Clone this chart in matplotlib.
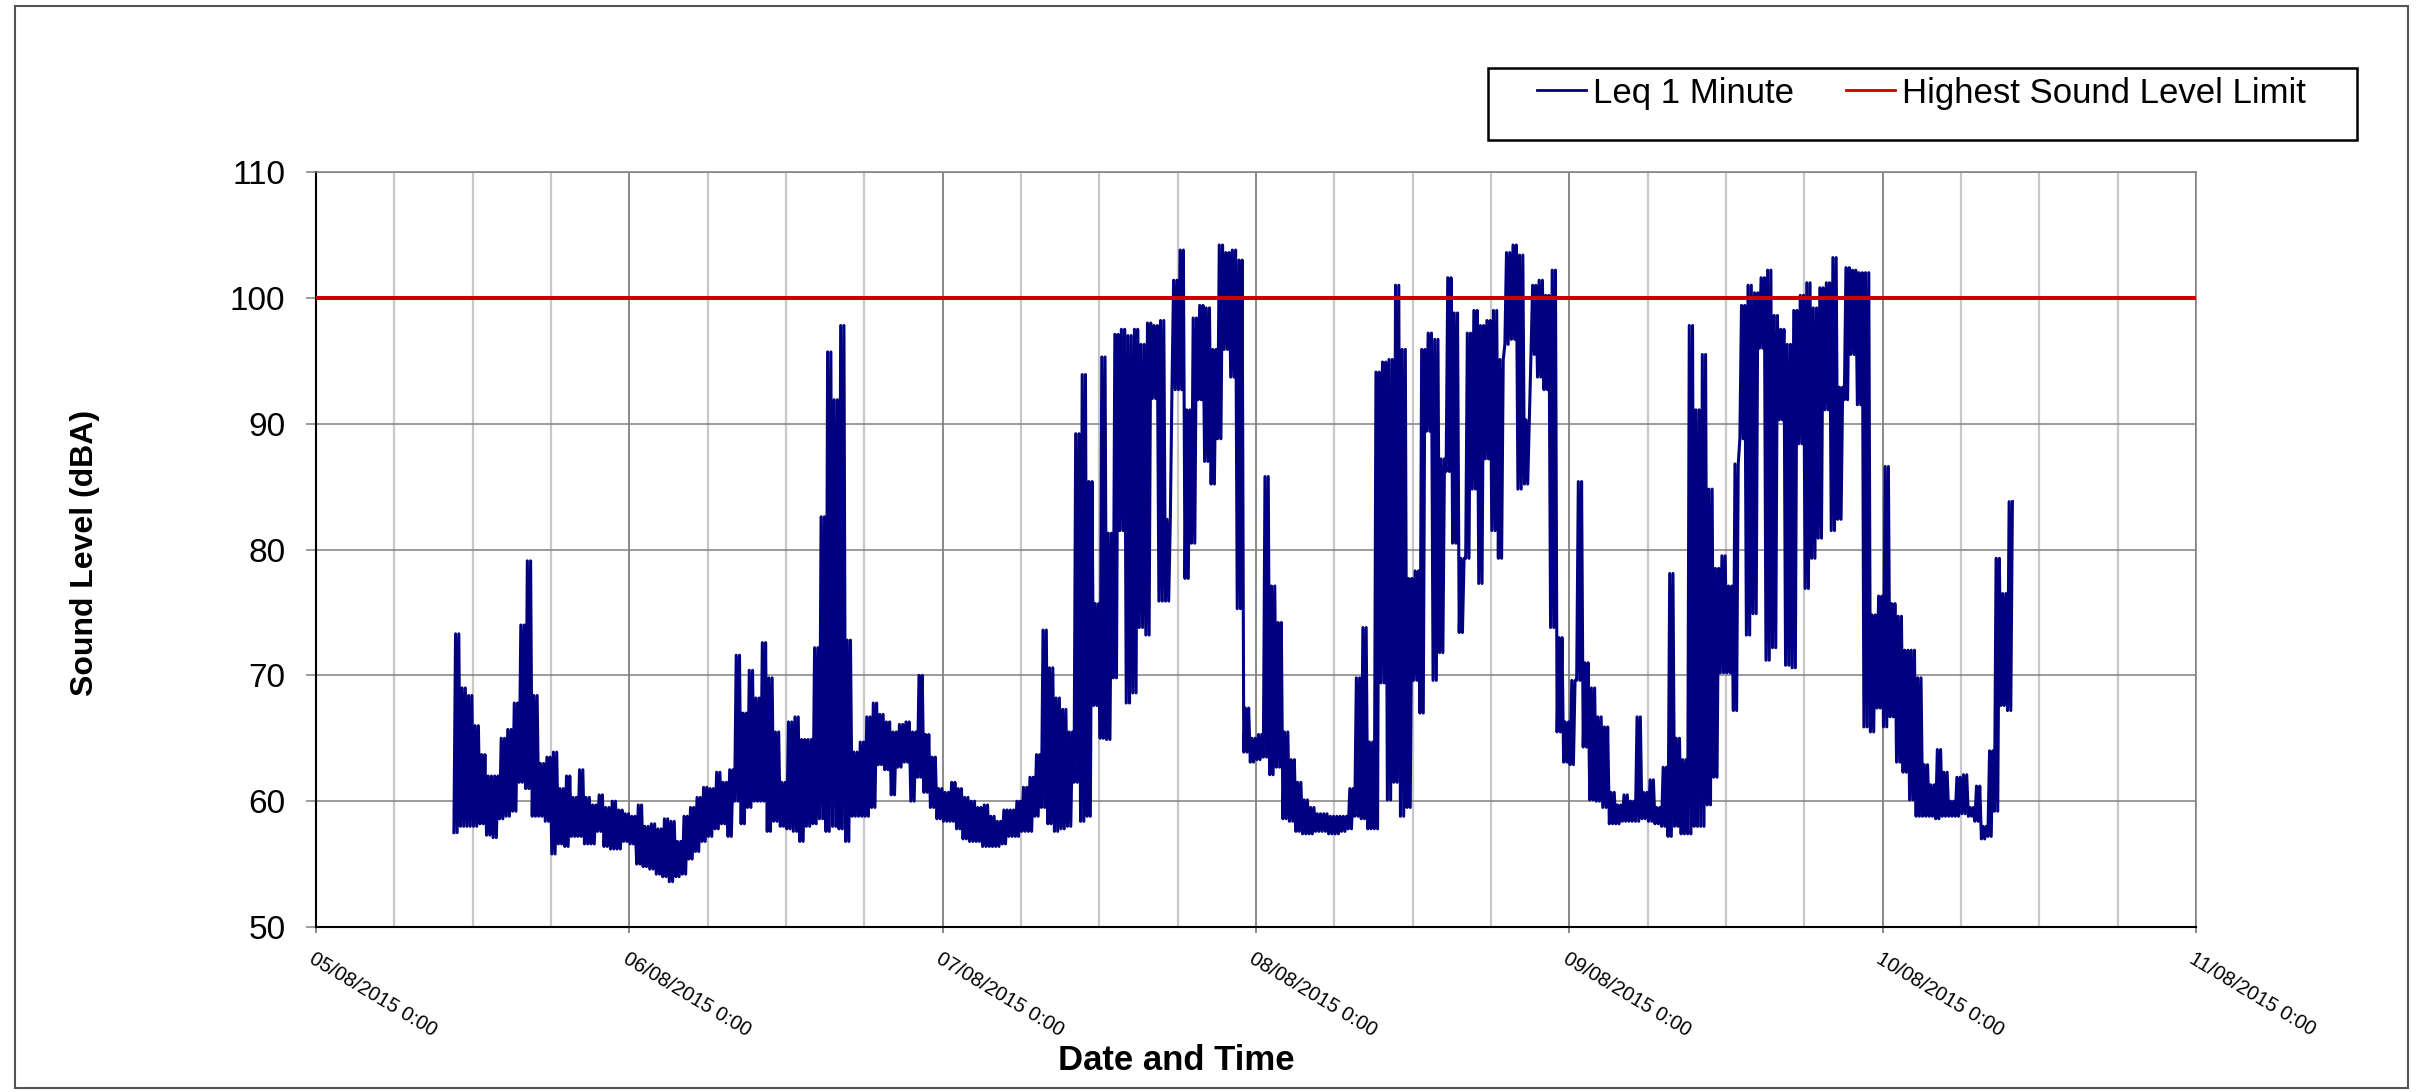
#!/usr/bin/env python3

import matplotlib
matplotlib.use("Agg")
import matplotlib.dates as mdates
import matplotlib.pyplot as plt
import matplotlib.ticker as mticker
import pandas as pd
from matplotlib.patches import Rectangle

plt.rcParams['font.family'] = ['Liberation Sans', 'DejaVu Sans']

# Leq 1 minute, summarised per half hour (min / max)
first_slot = "2015-08-05 10:30"
leq_low = [
    57.5, 58, 58, 58, 58.2, 57.3, 57.1, 58.6, 58.8, 59.2,
    61.5, 61, 58.8, 58.8, 58.4, 55.8, 56.6, 56.4, 57.2, 57.2,
    56.6, 56.6, 57.6, 56.4, 56.2, 56.2, 56.8, 56.6, 55, 54.8,
    54.6, 54.2, 54, 53.6, 54, 54.2, 55.4, 56, 56.8, 57.2,
    57.8, 58.2, 57.2, 60, 58.2, 59.5, 60,
    60, 57.6, 58.4, 58, 57.8, 57.6, 56.8, 58, 58.2, 58.6,
    57.6, 58, 57.8, 56.8, 58.8, 58.8, 58.8, 59.5, 62.9, 62.5,
    60.5, 62.7, 63.1, 60, 61.9, 60.7, 59.5, 58.6, 58.4, 58.4,
    57.8, 57, 56.8, 56.8, 56.4, 56.4, 56.4, 56.6, 57.2, 57.2,
    57.6, 57.6, 58.8, 59.5, 58.2, 57.6,
    57.8, 58, 61.5, 58.4, 58.8, 67.6, 65, 64.9, 69.8, 81.5,
    67.8, 68.6, 73.8, 73.2, 92, 75.9, 75.9, 92.7, 92.7, 77.7,
    80.5, 91.9, 87, 85.2, 88.8, 95.9, 93.7, 75.3, 63.9, 63.1,
    63.3, 63.5, 62.1, 62.7, 58.6, 58.4, 57.6, 57.4, 57.4, 57.6,
    57.6, 57.4, 57.4, 57.6, 57.8, 58.8,
    58.6, 57.8, 57.8, 69.4, 60.1, 61.5, 58.8, 59.5, 69.6, 67,
    89.4, 69.6, 71.8, 86.2, 80.5, 73.4, 79.3, 84.8, 77.3, 87.2,
    81.5, 79.3, 96.3, 96.7, 84.8, 85.2, 95.5, 93.7, 92.7, 73.8,
    65.5, 63.1, 62.9, 69.6, 64.3, 60.1, 60, 59.5, 58.2, 58.2,
    58.4, 58.4, 58.4, 58.6,
    58.4, 58.2, 58, 57.2, 58, 57.4, 57.4, 58, 58, 59.7,
    61.9, 70.2, 70.2, 67.2, 88.8, 73.2, 74.9, 96, 71.2, 72.2,
    90.3, 70.8, 70.6, 88.4, 76.9, 79.3, 80.9, 91.1, 81.5, 82.4,
    91.9, 95.5, 91.5, 65.9, 65.5, 67.4, 65.9, 66.7, 63.1, 62.3,
    60.1, 58.8, 58.8, 58.8, 58.6, 58.8, 58.8, 58.8,
    59, 58.8, 58.4, 57, 57.2, 59.2, 67.6, 67.2,
]
leq_high = [
    73.3, 69, 68.4, 66, 63.7, 62, 62, 65, 65.7, 67.8,
    74, 79.1, 68.4, 63, 63.5, 63.9, 61, 62, 60.3, 62.5,
    60.3, 59.7, 60.5, 59.5, 60, 59.3, 59, 58.8, 59.7, 58,
    58.2, 57.8, 58.6, 58.4, 56.8, 58.8, 59.5, 60.3, 61.1, 61,
    62.3, 61.5, 62.5, 71.6, 67, 70.4, 68.2,
    72.6, 69.8, 65.5, 61.5, 66.3, 66.7, 64.9, 64.9, 72.2, 82.6,
    95.7, 91.9, 97.8, 72.8, 63.9, 64.7, 66.7, 67.8, 66.9, 66.3,
    65.5, 66.1, 66.3, 65.5, 70, 65.3, 63.5, 61, 60.7, 61.5,
    61, 60.3, 60, 59.5, 59.7, 58.8, 58.4, 59.3, 59.3, 60,
    61.1, 61.9, 63.7, 73.6, 70.6, 68.2,
    67.3, 65.5, 89.2, 93.9, 85.4, 75.7, 95.3, 81.3, 97.1, 97.5,
    97, 97.5, 96.3, 98, 97.8, 98.2, 82.4, 101.4, 103.8, 91.1,
    98.4, 99.4, 99.2, 95.9, 104.2, 103.6, 103.8, 103, 67.4, 65,
    65.3, 85.8, 77.1, 74.2, 65.5, 63.3, 61.5, 60.1, 59.5, 59,
    59, 58.8, 58.8, 58.8, 61, 69.8,
    73.8, 64.7, 94.1, 94.9, 95.1, 101, 95.9, 77.7, 78.3, 95.9,
    97.2, 96.7, 87.2, 101.6, 98.8, 79.3, 97.2, 99, 97.8, 98.2,
    99, 95.1, 103.6, 104.2, 103.4, 90.3, 101, 101.4, 100.2, 102.2,
    73, 66.3, 69.6, 85.4, 71, 69, 66.7, 65.9, 60.7, 59.7,
    60.5, 60, 66.7, 60.7,
    61.7, 59.5, 62.7, 78.1, 65, 63.3, 97.8, 91.1, 95.5, 84.8,
    78.5, 79.5, 77.1, 86.8, 99.4, 101, 100.4, 101.6, 102.2, 98.6,
    97.5, 96.3, 99, 100.2, 101.2, 99.2, 100.8, 101.2, 103.2, 92.9,
    102.4, 102.2, 102, 102, 74.8, 76.3, 86.6, 75.7, 74.7, 72,
    72, 69.8, 62.9, 61.3, 64.1, 62.3, 60, 61.9,
    62.1, 59.5, 61.2, 58, 64, 79.3, 76.5, 83.8,
]
limit_db = 100

# x axis range and ticks
day_ticks = pd.date_range("2015-08-05", "2015-08-11", freq="D")
y_ticks = [50, 60, 70, 80, 90, 100, 110]

# build the time series: each half hour swings low/high twice
slots = pd.date_range(first_slot, periods=len(leq_low), freq="30min")
times = []
values = []
for s, lo, hi in zip(slots, leq_low, leq_high):
    for k, v in enumerate([lo, hi, lo, hi]):
        times.append(s + pd.Timedelta(minutes=3.75 + 7.5 * k))
        values.append(v)

W, H = 2416, 1092
fig = plt.figure(figsize=(W / 100, H / 100), dpi=100)
ax = fig.add_axes([316 / W, 1 - 927 / H, (2196 - 316) / W, (927 - 172) / H])

ax.plot(times, values, color='#000080', lw=2.2, label='Leq 1 Minute', zorder=3)
ax.axhline(limit_db, color='#cc0000', lw=2.9, label='Highest Sound Level Limit',
           zorder=4)

ax.set_xlim(day_ticks[0], day_ticks[-1])
ax.set_ylim(y_ticks[0], y_ticks[-1])
ax.set_yticks(y_ticks)

ax.xaxis.set_major_locator(mdates.DayLocator())
ax.xaxis.set_minor_locator(mdates.HourLocator(byhour=[6, 12, 18]))
ax.xaxis.set_major_formatter(mticker.FuncFormatter(
    lambda v, pos: "{:%d/%m/%Y} {}:{:%M}".format(
        mdates.num2date(v), mdates.num2date(v).hour, mdates.num2date(v))))

# grid
ax.grid(which='major', axis='x', color='#808080', lw=1.3, zorder=0)
ax.grid(which='minor', axis='x', color='#c8c8c8', lw=1.6, zorder=0)
ax.grid(which='major', axis='y', color='#808080', lw=1.1, zorder=0)

for side in ['top', 'right']:
    ax.spines[side].set_color('#808080')
    ax.spines[side].set_linewidth(1.1)
for side in ['left', 'bottom']:
    ax.spines[side].set_color('black')
    ax.spines[side].set_linewidth(1.5)

ax.tick_params(axis='y', which='major', direction='out', length=7, width=1.1,
               color='#808080', labelsize=24, pad=15)
ax.tick_params(axis='x', which='major', direction='out', length=4, width=1.3,
               color='#808080', labelsize=14.5, pad=12)
ax.tick_params(axis='x', which='minor', length=0)
for lab in ax.get_xticklabels():
    lab.set_rotation(-31)
    lab.set_ha('left')
    lab.set_va('top')
    lab.set_rotation_mode('anchor')

fig.text(85 / W, 1 - 553 / H, 'Sound Level (dBA)', rotation=90, ha='center',
         va='center', fontsize=23, fontweight='bold')
fig.text(1176 / W, 1 - 1060 / H, 'Date and Time', ha='center', va='center',
         fontsize=25, fontweight='bold')

# legend: entries without frame, box drawn separately
leg = fig.legend(loc='center left', bbox_to_anchor=(1520 / W, 1 - 93 / H), ncol=2,
                 fontsize=25, frameon=False, handlelength=1.4, handletextpad=0.2,
                 columnspacing=1.5, borderpad=0)
for line in leg.get_lines():
    line.set_linewidth(2)
fig.patches.append(Rectangle((1488 / W, 1 - 140 / H), (2357 - 1488) / W, 72 / H,
                             transform=fig.transFigure, fill=False,
                             edgecolor='black', lw=1.8))

# outer border of the chart
fig.patches.append(Rectangle((15 / W, 1 - 1088 / H), (2408 - 15) / W, (1088 - 6) / H,
                             transform=fig.transFigure, fill=False,
                             edgecolor='#555555', lw=1.5))

fig.savefig('out.png', dpi=100)
